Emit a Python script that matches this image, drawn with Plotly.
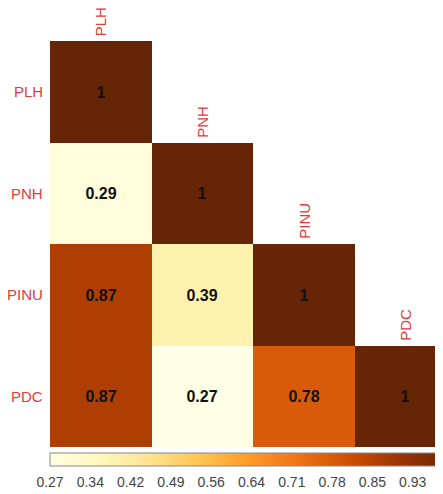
import numpy as np
import plotly.graph_objects as go

labels = ["PLH", "PNH", "PINU", "PDC"]
# lower-triangular correlation values (row i, col j), None above diagonal
row_PLH = [1, None, None, None]
row_PNH = [0.29, 1, None, None]
row_PINU = [0.87, 0.39, 1, None]
row_PDC = [0.87, 0.27, 0.78, 1]
cbar_ticktext = ["0.27", "0.34", "0.42", "0.49", "0.56", "0.64", "0.71", "0.78", "0.85", "0.93", "1.00"]
zmin, zmax = 0.27, 1.0

z = [row_PLH, row_PNH, row_PINU, row_PDC]
text = [["" if v is None else (f"<b>{v:g}</b>") for v in r] for r in z]

# page body has an 8px margin, so the figure is offset by (8, 8)
W, H = 435, 486
ml, mt, mb = 42, 33, 47
cell = (H - mt - mb) / 4.0
plot_w = W - ml
xmax = -0.5 + plot_w / cell

red = "rgb(228,58,58)"
font = "Arial, Liberation Sans"

fig = go.Figure()
fig.add_trace(go.Heatmap(
    z=z, x=list(range(4)), y=list(range(4)),
    zmin=zmin, zmax=zmax, colorscale="YlOrBr",
    text=text, texttemplate="%{text}",
    textfont=dict(family=font, size=16, color="#111"),
    hoverongaps=False,
    colorbar=dict(
        orientation="h", lenmode="pixels", len=403, thicknessmode="pixels", thickness=13,
        x=0, xanchor="left", y=-6 / (H - mt - mb), yanchor="top", xref="paper", yref="paper",
        xpad=0, ypad=0,
        outlinewidth=1, outlinecolor="#888",
        tickvals=list(np.linspace(zmin, zmax, len(cbar_ticktext))), ticktext=cbar_ticktext,
        ticks="outside", ticklen=4, tickcolor="rgba(0,0,0,0)",
        tickfont=dict(family=font, size=14, color="#444"),
    ),
))

for i, lab in enumerate(labels):
    # row labels
    fig.add_annotation(x=0, xref="paper", y=i, yref="y", text=lab, showarrow=False,
                       xanchor="right", xshift=-5,
                       font=dict(family=font, size=15, color=red))
    # column labels above diagonal cells
    fig.add_annotation(x=i, xref="x", y=i - 0.5, yref="y", text=lab, showarrow=False,
                       textangle=-90, xanchor="center", yanchor="bottom", yshift=3,
                       font=dict(family=font, size=15, color=red))

fig.update_xaxes(range=[-0.5, xmax], showticklabels=False, showgrid=False, zeroline=False,
                 ticks="")
fig.update_yaxes(range=[3.5, -0.5], showticklabels=False, showgrid=False, zeroline=False,
                 ticks="")
fig.update_layout(width=W, height=H, margin=dict(l=ml, r=0, t=mt, b=mb, autoexpand=False),
                  plot_bgcolor="white", paper_bgcolor="white", showlegend=False)
fig.write_html("out.html")
